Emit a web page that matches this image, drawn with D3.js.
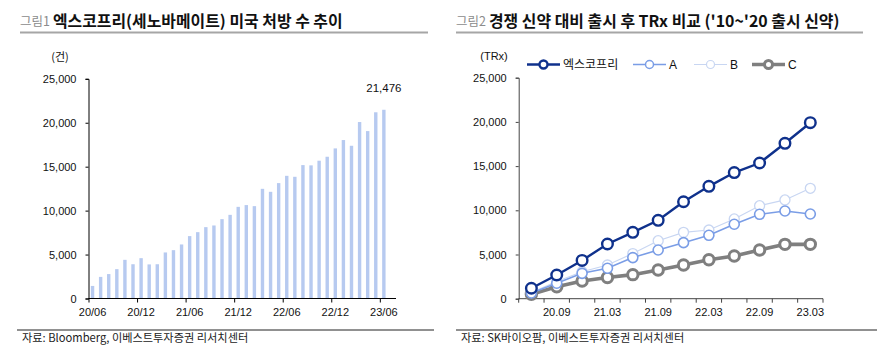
<!DOCTYPE html>
<html><head><meta charset="utf-8">
<script src="https://cdn.jsdelivr.net/npm/d3@7"></script>
<style>
body{margin:0;background:#fff;}
svg text{font-family:"Liberation Sans",Arial,sans-serif;}
.kr{font-family:"Noto Sans CJK KR","Noto Sans",sans-serif;}
</style></head>
<body><svg id="c" width="883" height="357"></svg>
<script>
// ---- Left chart data (monthly prescriptions) ----
const barMonths = ["20/06","20/07","20/08","20/09","20/10","20/11","20/12","21/01","21/02","21/03","21/04","21/05","21/06","21/07","21/08","21/09","21/10","21/11","21/12","22/01","22/02","22/03","22/04","22/05","22/06","22/07","22/08","22/09","22/10","22/11","22/12","23/01","23/02","23/03","23/04","23/05","23/06"];
const barValues = [1430,2460,2780,3340,4400,3900,4590,3880,3900,5240,5500,6150,7100,7550,8120,8310,9030,9520,10430,10630,10510,12480,12140,13130,13960,13850,15180,15150,15680,16130,17080,18030,17380,20080,19050,21190,21476];
const barTickLabels = ["20/06","20/12","21/06","21/12","22/06","22/12","23/06"];
const leftYTicks = [0,5000,10000,15000,20000,25000];

// ---- Right chart data (TRx after launch, quarterly) ----
const quarters = ["20.06","20.09","20.12","21.03","21.06","21.09","21.12","22.03","22.06","22.09","22.12","23.03"];
const quarterTickLabels = ["20.09","21.03","21.09","22.03","22.09","23.03"];
const seriesNames = ["엑스코프리","A","B","C"];
const xcopri = [1180,2680,4330,6190,7510,8870,10970,12710,14270,15350,17580,19910];
const seriesA = [650,1750,2870,3440,4650,5510,6340,7170,8420,9550,9920,9580];
const seriesB = [700,1950,3050,3810,5110,6560,7510,7770,9020,10520,11170,12490];
const seriesC = [500,1360,2000,2400,2720,3250,3810,4410,4830,5510,6150,6150];
const rightYTicks = [0,5000,10000,15000,20000,25000];

const svg = d3.select("#c");
const fmt = d3.format(",");

// ---------- Titles ----------
function title(x0, x1, num, txt){
  svg.append("text").attr("class","kr").attr("x",x0).attr("y",26)
    .attr("font-size",12.5).attr("fill","#8c8c8c").text(num);
  svg.append("text").attr("class","kr").attr("x",x0+33).attr("y",26.5)
    .attr("font-size",15.9).attr("font-weight","bold").attr("fill","#111").text(txt);
  svg.append("line").attr("x1",x0).attr("x2",x1).attr("y1",32.5).attr("y2",32.5)
    .attr("stroke","#a6a6a6").attr("stroke-width",2.2);
}
title(20,428,"그림1","엑스코프리(세노바메이트) 미국 처방 수 추이");
title(456,863,"그림2","경쟁 신약 대비 출시 후 TRx 비교 ('10~'20 출시 신약)");

// ---------- Footers ----------
function footer(x0,x1,txt){
  svg.append("line").attr("x1",x0).attr("x2",x1).attr("y1",330).attr("y2",330)
    .attr("stroke","#222").attr("stroke-width",1);
  svg.append("text").attr("class","kr").attr("x",x0+5).attr("y",341.5)
    .attr("font-size",11.2).attr("fill","#222").text(txt);
}
footer(17,434,"자료: Bloomberg, 이베스트투자증권 리서치센터");
footer(456,877,"자료: SK바이오팜, 이베스트투자증권 리서치센터");

// ---------- Left chart ----------
{
  const L=88.5, R=396, B=298.5, T=78.8;
  const bw = (R-L)/(barMonths.length+1);
  const x = d3.scaleBand().domain(barMonths).range([L, L+bw*barMonths.length]);
  const y = d3.scaleLinear().domain([0,25000]).range([B,T]);
  const g = svg.append("g");
  g.selectAll("rect.bar").data(barValues).enter().append("rect")
    .attr("x",(d,i)=>x(barMonths[i])+x.bandwidth()/2-1.7)
    .attr("width",3.4)
    .attr("y",d=>y(d)).attr("height",d=>B-y(d))
    .attr("fill","#b7caf0");
  const ya = g.append("g").attr("transform",`translate(${L},0)`)
    .call(d3.axisLeft(y).tickValues(leftYTicks).tickSize(3).tickPadding(9).tickFormat(fmt));
  ya.select(".domain").attr("stroke","#000");
  ya.selectAll("text").attr("font-size",11).attr("fill","#111");
  const xa = g.append("g").attr("transform",`translate(0,${B})`);
  xa.append("line").attr("x1",L).attr("x2",R).attr("stroke","#000");
  barTickLabels.forEach(lbl=>{
    const px = x(lbl);
    xa.append("line").attr("x1",px+0.5).attr("x2",px+0.5).attr("y1",0).attr("y2",4).attr("stroke","#000");
    xa.append("text").attr("x",px+x.bandwidth()/2).attr("y",17).attr("text-anchor","middle")
      .attr("font-size",11).attr("fill","#111").text(lbl);
  });
  g.append("text").attr("class","kr").attr("x",60).attr("y",61).attr("text-anchor","middle")
    .attr("font-size",11).attr("fill","#111").text("(건)");
  const last = barMonths.length-1;
  g.append("text").attr("x",x(barMonths[last])+x.bandwidth()/2).attr("y",y(barValues[last])-18)
    .attr("text-anchor","middle").attr("font-size",11.5).attr("fill","#111").text(fmt(barValues[last]));
}

// ---------- Right chart ----------
{
  const L=518.7, R=823, B=298.7, T=77.7;
  const x = d3.scaleBand().domain(quarters).range([L,R]);
  const y = d3.scaleLinear().domain([0,25000]).range([B,T]);
  const g = svg.append("g");
  const ya = g.append("g").attr("transform",`translate(${L},0)`)
    .call(d3.axisLeft(y).tickValues(rightYTicks).tickSize(3).tickPadding(9).tickFormat(fmt));
  ya.select(".domain").attr("stroke","#444");
  ya.selectAll("line").attr("stroke","#444");
  ya.selectAll("text").attr("font-size",11).attr("fill","#111");
  const xa = g.append("g").attr("transform",`translate(0,${B})`);
  xa.append("line").attr("x1",L).attr("x2",R).attr("stroke","#444");
  quarters.concat([null]).forEach((q,i)=>{
    const px = L + i*x.bandwidth();
    xa.append("line").attr("x1",px).attr("x2",px).attr("y1",0).attr("y2",4).attr("stroke","#444");
  });
  quarterTickLabels.forEach(lbl=>{
    xa.append("text").attr("x",x(lbl)+x.bandwidth()/2).attr("y",17).attr("text-anchor","middle")
      .attr("font-size",11).attr("fill","#111").text(lbl);
  });
  g.append("text").attr("x",494).attr("y",60).attr("text-anchor","middle")
    .attr("font-size",11).attr("fill","#111").text("(TRx)");

  const styles = [
    {data:seriesC, color:"#7f7f7f", w:3.6, r:5.2, sw:3},
    {data:seriesB, color:"#c8d6f2", w:1.2, r:5, sw:1.3},
    {data:seriesA, color:"#7a9de6", w:1.6, r:5, sw:1.6},
    {data:xcopri, color:"#0f318c", w:2.4, r:5.3, sw:2.4}
  ];
  const line = d3.line().x((d,i)=>x(quarters[i])+x.bandwidth()/2).y(d=>y(d));
  styles.forEach(s=>{
    g.append("path").datum(s.data).attr("d",line).attr("fill","none")
      .attr("stroke",s.color).attr("stroke-width",s.w);
    g.selectAll(null).data(s.data).enter().append("circle")
      .attr("cx",(d,i)=>x(quarters[i])+x.bandwidth()/2).attr("cy",d=>y(d)).attr("r",s.r)
      .attr("fill","#fff").attr("stroke",s.color).attr("stroke-width",s.sw);
  });
  const leg = [
    {name:seriesNames[0], x:527, color:"#0f318c", w:2.4, r:4, sw:2.4},
    {name:seriesNames[1], x:633, color:"#7a9de6", w:1.6, r:4, sw:1.5},
    {name:seriesNames[2], x:694, color:"#c8d6f2", w:1.2, r:4, sw:1.2},
    {name:seriesNames[3], x:752, color:"#7f7f7f", w:3.6, r:4, sw:3}
  ];
  leg.forEach(l=>{
    const ly=64.5;
    g.append("line").attr("x1",l.x).attr("x2",l.x+33).attr("y1",ly).attr("y2",ly)
      .attr("stroke",l.color).attr("stroke-width",l.w);
    g.append("circle").attr("cx",l.x+16.5).attr("cy",ly).attr("r",l.r)
      .attr("fill","#fff").attr("stroke",l.color).attr("stroke-width",l.sw);
    g.append("text").attr("class", l.name.length>1?"kr":"").attr("x",l.x+36).attr("y",ly+4)
      .attr("font-size",12).attr("fill","#111").text(l.name);
  });
}
</script></body></html>
